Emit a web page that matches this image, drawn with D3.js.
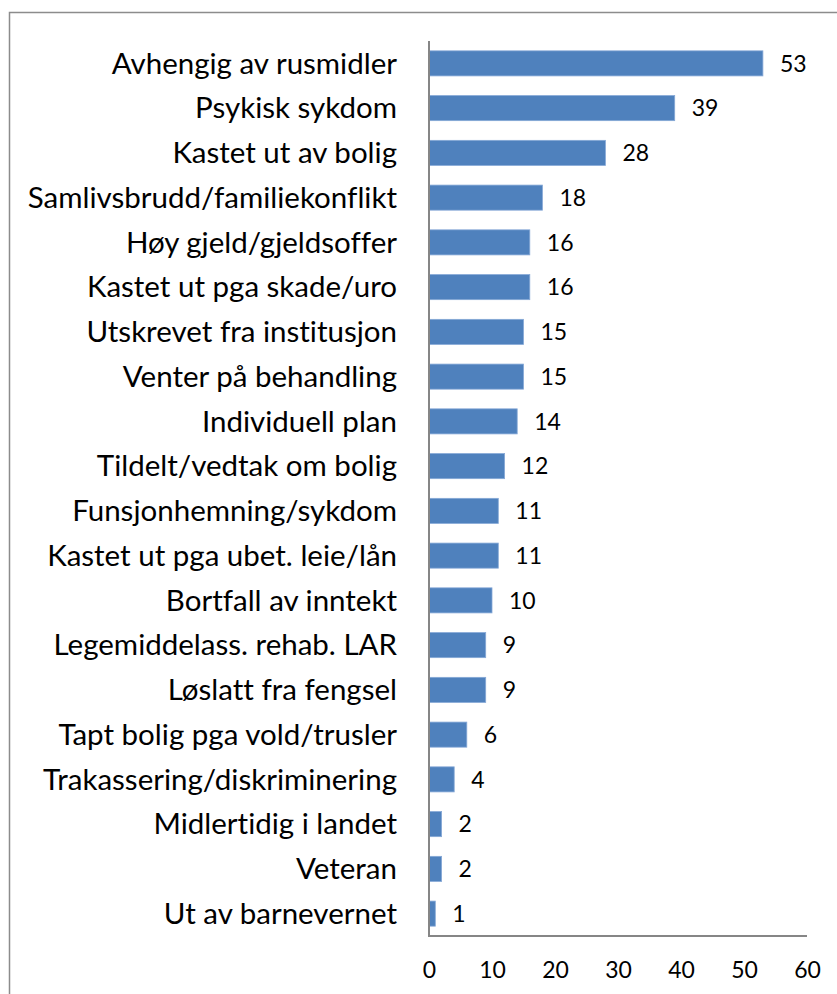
<!DOCTYPE html>
<html>
<head>
<meta charset="utf-8">
<script src="https://cdn.jsdelivr.net/npm/d3@7"></script>
<style>
  body { margin: 0; background: #fff; }
  svg { display: block; }
  text { font-variant-ligatures: none; font-feature-settings: "liga" 0; }
</style>
</head>
<body>
<div id="chart"></div>
<script>
const categories = [
  "Avhengig av rusmidler",
  "Psykisk sykdom",
  "Kastet ut av bolig",
  "Samlivsbrudd/familiekonflikt",
  "Høy gjeld/gjeldsoffer",
  "Kastet ut pga skade/uro",
  "Utskrevet fra institusjon",
  "Venter på behandling",
  "Individuell plan",
  "Tildelt/vedtak om bolig",
  "Funsjonhemning/sykdom",
  "Kastet ut pga ubet. leie/lån",
  "Bortfall av inntekt",
  "Legemiddelass. rehab. LAR",
  "Løslatt fra fengsel",
  "Tapt bolig pga vold/trusler",
  "Trakassering/diskriminering",
  "Midlertidig i landet",
  "Veteran",
  "Ut av barnevernet"
]
const values = [53, 39, 28, 18, 16, 16, 15, 15, 14, 12, 11, 11, 10, 9, 9, 6, 4, 2, 2, 1]
const xTicks = [0, 10, 20, 30, 40, 50, 60]

const W = 837, H = 994
const PLOT = { LEFT: 429, RIGHT: 807, TOP: 41, BOTTOM: 936 }
const FONT = "Lato, 'Open Sans', sans-serif"

const svg = d3.select("#chart")
  .append("svg")
    .attr("width", W)
    .attr("height", H)

// outer chart frame (runs off the right and bottom edge)
svg.append("rect")
  .attr("x", 9.5).attr("y", 12.5)
  .attr("width", 1000).attr("height", 1200)
  .attr("fill", "none")
  .attr("stroke", "#8c8c8c")
  .attr("stroke-width", 1.5)

const x = d3.scaleLinear()
  .domain([0, 60])
  .range([PLOT.LEFT, PLOT.RIGHT])

const y = d3.scaleBand()
  .domain(categories)
  .range([PLOT.TOP, PLOT.BOTTOM])
  .paddingInner(0.44)
  .paddingOuter(0.22)

const data = categories.map((c, i) => ({ name: c, value: values[i] }))

// bars
svg.selectAll("rect.bar")
  .data(data)
  .enter().append("rect")
    .attr("class", "bar")
    .attr("x", x(0))
    .attr("y", d => y(d.name))
    .attr("width", d => x(d.value) - x(0))
    .attr("height", y.bandwidth())
    .attr("fill", "#4f81bd")
    .attr("stroke", "#86a8d6")
    .attr("stroke-width", 0.8)

// value labels
svg.selectAll("text.val")
  .data(data)
  .enter().append("text")
    .attr("class", "val")
    .attr("x", d => x(d.value) + 17)
    .attr("y", d => y(d.name) + y.bandwidth() / 2)
    .attr("dy", "0.36em")
    .attr("font-family", FONT)
    .attr("font-size", 23)
    .attr("fill", "#000")
    .text(d => d.value)

// category labels
const yAxis = d3.axisLeft(y).tickSize(0).tickPadding(32)
const gy = svg.append("g")
  .attr("transform", `translate(${PLOT.LEFT},0)`)
  .call(yAxis)
gy.select(".domain").remove()
gy.selectAll("text")
  .attr("font-family", FONT)
  .attr("font-size", 29.5)
  .attr("fill", "#000")
  .attr("dy", "0.35em")

// x tick labels
const xAxis = d3.axisBottom(x).tickValues(xTicks).tickSize(0).tickPadding(26)
const gx = svg.append("g")
  .attr("transform", `translate(0,${PLOT.BOTTOM})`)
  .call(xAxis)
gx.select(".domain").remove()
gx.selectAll("text")
  .attr("font-family", FONT)
  .attr("font-size", 23)
  .attr("fill", "#000")

// axis lines
svg.append("line")
  .attr("x1", PLOT.LEFT).attr("x2", PLOT.LEFT)
  .attr("y1", PLOT.TOP).attr("y2", PLOT.BOTTOM)
  .attr("stroke", "#868686").attr("stroke-width", 2)
svg.append("line")
  .attr("x1", PLOT.LEFT - 1).attr("x2", PLOT.RIGHT)
  .attr("y1", PLOT.BOTTOM).attr("y2", PLOT.BOTTOM)
  .attr("stroke", "#868686").attr("stroke-width", 2)
</script>
</body>
</html>
